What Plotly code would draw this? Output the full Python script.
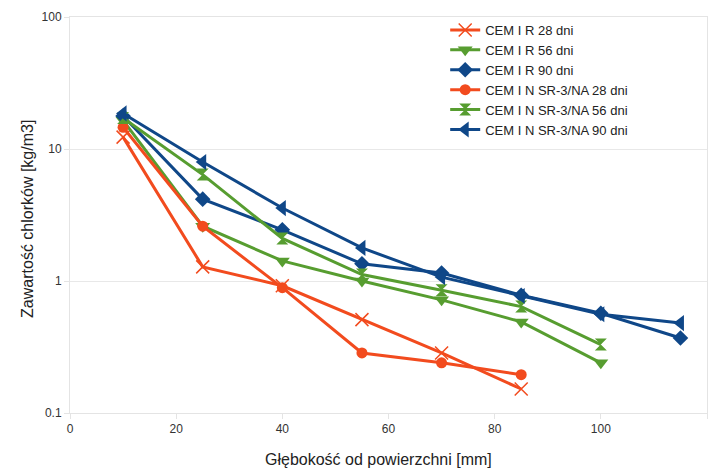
import plotly.graph_objects as go

depth_a = [10, 25, 40, 55, 70, 85]
depth_b = [10, 25, 40, 55, 70, 85, 100]
depth_c = [10, 25, 40, 55, 70, 85, 100, 115]

r28 = [12.3, 1.28, 0.92, 0.51, 0.285, 0.152]
r56 = [16.5, 2.6, 1.42, 1.0, 0.72, 0.49, 0.24]
r90 = [17.8, 4.17, 2.44, 1.35, 1.15, 0.78, 0.57, 0.37]
n28 = [14.6, 2.6, 0.89, 0.285, 0.24, 0.195]
n56 = [17.2, 6.4, 2.1, 1.12, 0.85, 0.64, 0.33]
n90 = [18.6, 7.96, 3.57, 1.78, 1.07, 0.77, 0.56, 0.48]

names = ["CEM I R 28 dni", "CEM I R 56 dni", "CEM I R 90 dni",
         "CEM I N SR-3/NA 28 dni", "CEM I N SR-3/NA 56 dni", "CEM I N SR-3/NA 90 dni"]

x_title = "Głębokość od powierzchni [mm]"
y_title = "Zawartość chlorków [kg/m3]"

ORANGE = "#f24b1e"
GREEN = "#579d30"
BLUE = "#0f4788"

series = [
    (depth_a, r28, ORANGE, "x-thin", 13),
    (depth_b, r56, GREEN, "triangle-down", 13),
    (depth_c, r90, BLUE, "diamond", 12),
    (depth_a, n28, ORANGE, "circle", 11),
    (depth_b, n56, GREEN, "hourglass", 12),
    (depth_c, n90, BLUE, "triangle-left", 14),
]

fig = go.Figure()
for (xs, ys, col, sym, sz), nm in zip(series, names):
    marker = dict(symbol=sym, size=sz, color=col)
    if sym == "x-thin":
        marker["line"] = dict(width=1.5, color=col)
    fig.add_trace(go.Scatter(
        x=xs, y=ys, name=nm, mode="lines+markers",
        line=dict(color=col, width=3),
        marker=marker,
    ))

fig.update_layout(
    width=714, height=469,
    margin=dict(l=70, r=7, t=17, b=56),
    paper_bgcolor="white", plot_bgcolor="white",
    font=dict(family="Liberation Sans, Arial, sans-serif", color="#333333", size=12),
    legend=dict(x=0.589, y=1.005, xanchor="left", yanchor="top",
                font=dict(size=13, color="#222222"), bgcolor="rgba(0,0,0,0)",
                tracegroupgap=0, itemwidth=30),
    xaxis=dict(range=[0, 120], dtick=20, showgrid=False, automargin=False,
               showline=True, linecolor="#e4e4e4", mirror=True,
               ticks="outside", ticklen=5, tickcolor="#e4e4e4",
               zeroline=False),
    yaxis=dict(type="log", range=[-1, 2], tickvals=[0.1, 1, 10, 100],
               ticktext=["0.1", "1", "10", "100"], automargin=False,
               showgrid=True, gridcolor="#e8e8e8",
               showline=True, linecolor="#e4e4e4", mirror=True,
               ticks="outside", ticklen=5, tickcolor="#e4e4e4",
               zeroline=False),
    annotations=[
        dict(text=x_title, xref="paper", yref="paper", x=0.485, y=-0.118,
             xanchor="center", yanchor="middle", showarrow=False,
             font=dict(size=16, color="#222222")),
        dict(text=y_title, xref="paper", yref="paper", x=-0.066, y=0.49,
             xanchor="center", yanchor="middle", showarrow=False, textangle=-90,
             font=dict(size=16, color="#222222")),
    ],
)

fig.write_html("out.html", config={"displayModeBar": False},
               post_script="document.body.style.margin='0';document.body.style.overflow='hidden';")
